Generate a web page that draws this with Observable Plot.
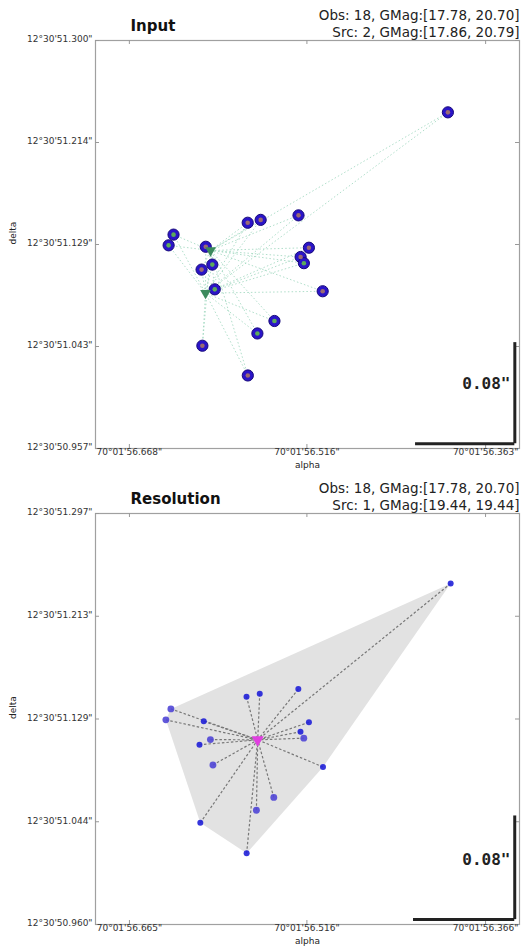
<!DOCTYPE html>
<html><head><meta charset="utf-8">
<script src="https://cdn.jsdelivr.net/npm/d3@7"></script>
<script src="https://cdn.jsdelivr.net/npm/@observablehq/plot@0.6"></script>
<style>body{margin:0;background:#fff;width:523px;overflow:hidden} svg{display:block}</style>
</head><body><div id="chart"></div>
<script>
// ---- data (arcsec parts of alpha = 70°01'xx.xxx", delta = 12°30'xx.xxx") ----
const obsAlpha = [56.5232, 56.5667, 56.5556, 56.6302, 56.6344, 56.6026, 56.5143, 56.5214, 56.5186,
                  56.5970, 56.6062, 56.5949, 56.5025, 56.5438, 56.5584, 56.6055, 56.5666, 56.3953];
const obsDelta = [51.1530, 51.1468, 51.1492, 51.1368, 51.1278, 51.1266, 51.1258, 51.1180, 51.1128,
                  51.1116, 51.1074, 51.0908, 51.0892, 51.0642, 51.0537, 51.0434, 51.0184, 51.2396];
const obsGroup = ["p","p","p","g","g","p","p","p","g","g","p","g","p","g","g","p","p","p"];

const inputSrcAlpha = [56.5985, 56.6028];
const inputSrcDelta = [51.1235, 51.0876];
const resSrcAlpha = [56.5573];
const resSrcDelta = [51.1114];

const inputTitle = "Input";
const inputInfo = ["Obs: 18, GMag:[17.78, 20.70]", "Src: 2, GMag:[17.86, 20.79]"];
const resTitle = "Resolution";
const resInfo = ["Obs: 18, GMag:[17.78, 20.70]", "Src: 1, GMag:[19.44, 19.44]"];

const inputXDomain = [56.697, 56.334];
const inputYDomain = [50.957, 51.300];
const inputXTicks = [56.668, 56.516, 56.363];
const inputXLabels = ["70°01'56.668\"", "70°01'56.516\"", "70°01'56.363\""];
const inputYTicks = [50.957, 51.04275, 51.1285, 51.21425, 51.300];
const inputYLabels = ["12°30'50.957\"", "12°30'51.043\"", "12°30'51.129\"", "12°30'51.214\"", "12°30'51.300\""];

const resXDomain = [56.6935, 56.3375];
const resYDomain = [50.960, 51.297];
const resXTicks = [56.665, 56.516, 56.366];
const resXLabels = ["70°01'56.665\"", "70°01'56.516\"", "70°01'56.366\""];
const resYTicks = [50.960, 51.04425, 51.1285, 51.21275, 51.297];
const resYLabels = ["12°30'50.960\"", "12°30'51.044\"", "12°30'51.129\"", "12°30'51.213\"", "12°30'51.297\""];

const scaleBarLabel = "0.08\"";
const scaleBarLen = 0.085;

// ---- build ----
const obs = obsAlpha.map((a, i) => ({alpha: a, delta: obsDelta[i], group: obsGroup[i]}));
const inSrc = inputSrcAlpha.map((a, i) => ({alpha: a, delta: inputSrcDelta[i]}));
const resSrc = resSrcAlpha.map((a, i) => ({alpha: a, delta: resSrcDelta[i]}));

const W = 523, ML = 95, MR = 4;
const FONT = "DejaVu Sans";

function frameMarks(o) {
  const innerH = o.height - o.mt - o.mb;
  const innerW = W - ML - MR;
  const tickC = "#999";
  return [
    Plot.frame({stroke: "#a0a0a0", strokeWidth: 1.2}),
    Plot.tickX(o.xTicks, {x: d => d, insetTop: innerH - 4, stroke: tickC}),
    Plot.tickX(o.xTicks, {x: d => d, insetBottom: innerH - 4, stroke: tickC}),
    Plot.tickY(o.yTicks, {y: d => d, insetRight: innerW - 4, stroke: tickC}),
    Plot.tickY(o.yTicks, {y: d => d, insetLeft: innerW - 4, stroke: tickC}),
    Plot.text(o.xTicks, {x: d => d, frameAnchor: "bottom", dy: 6, text: (d, i) => o.xLabels[i],
      fontSize: 9, fill: "#333"}),
    Plot.text(o.yTicks, {y: d => d, frameAnchor: "left", dx: -3, dy: -1, text: (d, i) => o.yLabels[i],
      textAnchor: "end", fontSize: 9, fill: "#333"}),
    Plot.text(["alpha"], {frameAnchor: "bottom", dy: 19, text: d => d, fontSize: 9, fill: "#222"}),
    Plot.text(["delta"], {frameAnchor: "left", dx: -82, rotate: -90, text: d => d, fontSize: 9, fill: "#222"}),
    Plot.text([o.title], {frameAnchor: "top-left", dx: 35, dy: -20, text: d => d, textAnchor: "start",
      fontSize: 15, fontWeight: "bold", fill: "#111"}),
    Plot.text([o.info[0]], {frameAnchor: "top-right", dy: -30, text: d => d, textAnchor: "end", fontSize: 13.5, fill: "#222"}),
    Plot.text([o.info[1]], {frameAnchor: "top-right", dy: -13, text: d => d, textAnchor: "end", fontSize: 13.5, fill: "#222"}),
    // scale bar
    Plot.ruleY([o.yDomain[0] + 0.004], {x1: o.xDomain[1] + 0.004, x2: o.xDomain[1] + 0.004 + scaleBarLen, stroke: "#222", strokeWidth: 3}),
    Plot.ruleX([o.xDomain[1] + 0.004], {y1: o.yDomain[0] + 0.004, y2: o.yDomain[0] + 0.004 + scaleBarLen, stroke: "#222", strokeWidth: 3}),
    Plot.text([scaleBarLabel], {frameAnchor: "bottom-right", dx: -9, dy: -60, text: d => d, textAnchor: "end",
      fontFamily: "DejaVu Sans Mono", fontWeight: "bold", fontSize: 16, fill: "#222"})
  ];
}

function panel(o, marks) {
  return Plot.plot({
    width: W, height: o.height,
    marginLeft: ML, marginRight: MR, marginTop: o.mt, marginBottom: o.mb,
    x: {domain: o.xDomain, axis: null},
    y: {domain: o.yDomain, axis: null},
    style: {fontFamily: FONT, background: "white", overflow: "visible"},
    marks: [...marks, ...frameMarks(o)]
  });
}

// Input panel
const inLinks = obs.flatMap(p => inSrc.map(s => ({a1: p.alpha, d1: p.delta, a2: s.alpha, d2: s.delta})));
const inputOpts = {height: 474, mt: 40, mb: 26, xDomain: inputXDomain, yDomain: inputYDomain,
  xTicks: inputXTicks, xLabels: inputXLabels, yTicks: inputYTicks, yLabels: inputYLabels,
  title: inputTitle, info: inputInfo};
const p1 = panel(inputOpts, [
  Plot.link(inLinks, {x1: "a1", y1: "d1", x2: "a2", y2: "d2", stroke: "#8fd0b4", strokeWidth: 1,
    strokeDasharray: "1.5,2.2", strokeOpacity: 0.7}),
  Plot.dot(obs, {x: "alpha", y: "delta", r: 5.6, fill: "#2a14c8", stroke: "#16087a", strokeWidth: 1}),
  Plot.dot(obs, {x: "alpha", y: "delta", r: 2.3, fill: d => d.group === "g" ? "#5caa5a" : "#9a6a72"}),
  Plot.dot(inSrc, {x: "alpha", y: "delta", symbol: "triangle", rotate: 180, r: 4, fill: "#3c8a5c"})
]);

// Resolution panel
const resOpts = {height: 475, mt: 39, mb: 25, xDomain: resXDomain, yDomain: resYDomain,
  xTicks: resXTicks, xLabels: resXLabels, yTicks: resYTicks, yLabels: resYLabels,
  title: resTitle, info: resInfo};
const p2 = panel(resOpts, [
  Plot.hull(obs, {x: "alpha", y: "delta", fill: "#e2e2e2", stroke: "none"}),
  Plot.link(obs, {x1: "alpha", y1: "delta", x2: () => resSrc[0].alpha, y2: () => resSrc[0].delta,
    stroke: "#777", strokeWidth: 1.2, strokeDasharray: "2.5,2"}),
  Plot.dot(obs, {x: "alpha", y: "delta", r: d => d.group === "g" ? 4.2 : 3.2,
    fill: d => d.group === "g" ? "#5046d6" : "#2020d8", fillOpacity: 0.9}),
  Plot.dot(resSrc, {x: "alpha", y: "delta", symbol: "triangle", rotate: 180, r: 4.5, fill: "#e040e0"})
]);

const root = document.getElementById("chart");
root.append(p1, p2);
</script>
</body></html>
